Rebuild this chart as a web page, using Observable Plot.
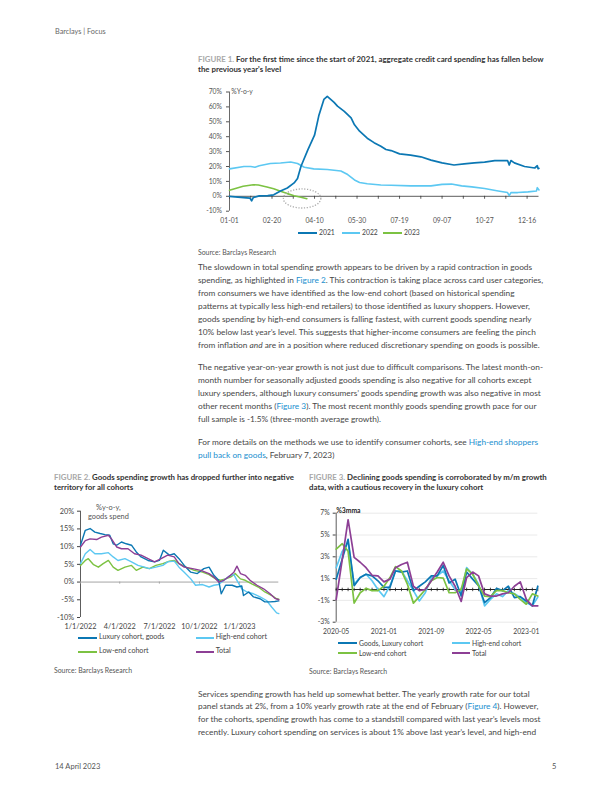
<!DOCTYPE html>
<html><head><meta charset="utf-8">
<script src="https://cdn.jsdelivr.net/npm/d3@7"></script>
<script src="https://cdn.jsdelivr.net/npm/@observablehq/plot@0.6"></script>
<style>
body{margin:0;background:#fff;}
#page{position:relative;width:612px;height:792px;overflow:hidden;font-family:Lato,"Open Sans",sans-serif;color:#444;}
.abs{position:absolute;white-space:nowrap;}
.title{font-size:7.85px;font-weight:700;line-height:10px;color:#333;}
.title .fig{color:#a8a8a8;}
.src{font-size:6.9px;color:#555;line-height:8px;}
.body{font-size:8.3px;line-height:13px;color:#474747;}
.link{color:#1a8fcf;}
.leg{font-size:7px;color:#444;line-height:8px;}
.sw{position:absolute;height:2px;}
.chart{position:absolute;}
</style></head>
<body><div id="page">
<div class="abs" style="left:55px;top:27px;font-size:7.3px;color:#666;">Barclays | Focus</div>

<div class="abs title" style="left:198px;top:54px;"><span class="fig">FIGURE 1.</span> For the first time since the start of 2021, aggregate credit card spending has fallen below<br>the previous year's level</div>
<div id="fig1" class="chart" style="left:190px;top:80px;"></div>
<div id="leg1"></div>
<div class="abs src" style="left:198px;top:247.5px;">Source: Barclays Research</div>

<div class="abs body" style="left:198px;top:261.2px;">The slowdown in total spending growth appears to be driven by a rapid contraction in goods<br>spending, as highlighted in <span class="link">Figure 2</span>. This contraction is taking place across card user categories,<br>from consumers we have identified as the low-end cohort (based on historical spending<br>patterns at typically less high-end retailers) to those identified as luxury shoppers. However,<br>goods spending by high-end consumers is falling fastest, with current goods spending nearly<br>10% below last year’s level. This suggests that higher-income consumers are feeling the pinch<br>from inflation <i>and</i> are in a position where reduced discretionary spending on goods is possible.</div>
<div class="abs body" style="left:198px;top:361.2px;">The negative year-on-year growth is not just due to difficult comparisons. The latest month-on-<br>month number for seasonally adjusted goods spending is also negative for all cohorts except<br>luxury spenders, although luxury consumers’ goods spending growth was also negative in most<br>other recent months (<span class="link">Figure 3</span>). The most recent monthly goods spending growth pace for our<br>full sample is -1.5% (three-month average growth).</div>
<div class="abs body" style="left:198px;top:435.8px;">For more details on the methods we use to identify consumer cohorts, see <span class="link">High-end shoppers</span><br><span class="link">pull back on goods</span>, February 7, 2023)</div>

<div class="abs title" style="left:54px;top:472.3px;"><span class="fig">FIGURE 2.</span> Goods spending growth has dropped further into negative<br>territory for all cohorts</div>
<div id="fig2" class="chart" style="left:40px;top:500px;"></div>
<div id="leg2"></div>
<div class="abs src" style="left:54px;top:666px;">Source: Barclays Research</div>

<div class="abs title" style="left:309px;top:472.3px;"><span class="fig">FIGURE 3.</span> Declining goods spending is corroborated by m/m growth<br>data, with a cautious recovery in the luxury cohort</div>
<div id="fig3" class="chart" style="left:300px;top:505px;"></div>
<div id="leg3"></div>
<div class="abs src" style="left:309px;top:666.7px;">Source: Barclays Research</div>

<div class="abs body" style="left:198px;top:687.5px;line-height:12.7px;">Services spending growth has held up somewhat better. The yearly growth rate for our total<br>panel stands at 2%, from a 10% yearly growth rate at the end of February (<span class="link">Figure 4</span>). However,<br>for the cohorts, spending growth has come to a standstill compared with last year’s levels most<br>recently. Luxury cohort spending on services is about 1% above last year’s level, and high-end</div>

<div class="abs" style="left:55px;top:762px;font-size:7.5px;color:#555;">14 April 2023</div>
<div class="abs" style="left:552px;top:762px;font-size:7.5px;color:#555;">5</div>
</div>
<script>
// ---------- Colours ----------
const cDark = "#0b77b3", cLight = "#5cc8f2", cGreen = "#7cc242", cPurple = "#8d3f95";

// ---------- Figure 1: aggregate credit card spending, %y/y, by day of year ----------
const fig1TickDays = [0, 50, 100, 150, 200, 250, 300, 350];
const fig1TickLabels = ["01-01", "02-20", "04-10", "05-30", "07-19", "09-07", "10-27", "12-16"];
const fig1MinorTicks = [0, 25, 50, 75, 100, 125, 150, 175, 200, 225, 250, 275, 300, 325, 350];
const fig1YTicks = [-10, 0, 10, 20, 30, 40, 50, 60, 70];
const days2021 = [0, 10, 20, 24, 26, 28, 35, 45, 52, 60, 68, 76, 80, 84, 92, 100, 105, 111, 115, 119, 123, 127, 135, 143, 147, 153, 162, 170, 178, 184, 190, 200, 213, 225, 237, 250, 264, 276, 288, 300, 312, 327, 329, 331, 335, 347, 359, 362, 363, 364];
const vals2021 = [0, -0.5, -1, -1.2, -3, -0.8, 0.3, 0.5, 1, 3.5, 5.6, 9, 12, 20, 31, 41, 54, 65, 67, 65, 63, 60.5, 57, 52.7, 48, 43.7, 39, 36, 33.6, 31.4, 30.7, 28.5, 27.6, 26.5, 24.3, 22.4, 21, 21.8, 22.4, 22.9, 24, 24, 21, 24, 22.4, 20, 19, 20.5, 18.5, 18.8];
const days2022 = [0, 17, 25, 30, 35, 48, 60, 72, 80, 88, 99, 115, 131, 139, 147, 153, 162, 178, 190, 213, 237, 250, 261, 273, 285, 300, 316, 327, 329, 331, 339, 351, 361, 362, 364];
const vals2022 = [18.4, 20, 20, 19.5, 20.5, 22, 22.4, 23, 22, 19.5, 18.4, 18, 17, 14.6, 11, 9.3, 8.4, 7.6, 7.4, 7, 7, 8, 8.2, 7, 6.3, 5.2, 3.6, 2.5, 0.5, 2.5, 2.5, 3, 3.6, 5.8, 4.3];
const days2023 = [0, 9, 16, 28, 34, 44, 52, 60, 68, 76, 84, 91];
const vals2023 = [4, 5.6, 6.7, 7.8, 7.6, 6.3, 5, 3.4, 1.8, 0.4, -0.7, -1.6];
const fig1Highlight = {day: 86, val: -1.8, rxDays: 22, ryVal: 6.4};

// ---------- Figure 2: goods spending %y/y by cohort, days since 1/1/2022 ----------
const fig2Ticks = ["2022-01-01", "2022-04-01", "2022-07-01", "2022-10-01", "2023-01-01"];
const fig2Domain = ["2022-01-01", "2023-04-01"];
const fig2YTicks = [-10, -5, 0, 5, 10, 15, 20];
const luxDays = [0, 11, 22, 33, 45, 56, 67, 75, 83, 94, 105, 117, 128, 139, 155, 170, 181, 190, 204, 215, 226, 238, 253, 268, 283, 295, 306, 317, 323, 333, 348, 359, 370, 374, 386, 397, 412, 423, 435, 446, 455];
const luxVals = [10.4, 14.6, 15.1, 14.1, 13.7, 13.4, 13.2, 10.8, 10.4, 11.3, 10.8, 10.4, 8.5, 7.1, 6.1, 5.7, 6.1, 9.0, 7.6, 8.0, 6.6, 4.7, 2.8, 2.4, 3.8, 4.2, 1.9, 0.5, -3.3, -0.9, -0.9, -1.4, -1.1, -3.8, -2.8, -4.2, -4.7, -5.6, -5.6, -5.5, -5.3];
const highDays = [0, 11, 22, 33, 48, 64, 75, 86, 102, 117, 132, 147, 158, 173, 189, 200, 215, 226, 238, 253, 264, 280, 295, 306, 317, 333, 344, 352, 359, 370, 382, 397, 412, 427, 439, 450, 455];
const highVals = [5.2, 8.0, 9.2, 8.0, 8.0, 8.3, 7.1, 6.1, 6.6, 5.7, 4.7, 4.2, 3.8, 4.2, 4.7, 5.7, 5.9, 4.2, 2.8, 0.9, -0.9, -0.7, -1.4, -0.9, -0.7, 0.9, 1.9, 2.1, 0.5, -1.9, -2.8, -3.3, -4.2, -5.2, -7.1, -8.7, -8.9];
const lowDays = [0, 11, 18, 30, 41, 52, 64, 75, 86, 102, 117, 128, 143, 158, 173, 189, 204, 215, 226, 242, 261, 280, 295, 310, 321, 333, 344, 355, 367, 378, 393, 408, 423, 439, 450, 455];
const lowVals = [4.7, 6.1, 6.6, 4.9, 4.2, 5.2, 6.1, 4.2, 3.3, 4.2, 4.7, 3.3, 4.2, 3.8, 4.7, 5.2, 5.9, 6.1, 5.2, 4.2, 3.3, 2.8, 2.1, 0.9, 0.5, 0.9, 1.4, 2.4, 0.9, 0.5, -0.5, -1.4, -2.8, -3.8, -4.7, -4.8];
const totDays = [0, 11, 22, 37, 48, 64, 71, 83, 94, 109, 124, 139, 155, 170, 185, 200, 215, 226, 238, 257, 276, 295, 306, 317, 329, 344, 352, 359, 367, 378, 389, 405, 420, 435, 446, 455];
const totVals = [9.9, 11.7, 12.2, 12.0, 12.7, 13.2, 12.2, 9.9, 9.4, 9.4, 8.0, 7.6, 6.6, 5.7, 6.6, 7.6, 7.1, 5.2, 4.2, 3.8, 3.3, 2.4, 1.4, 0.0, 0.5, 1.9, 2.8, 4.5, 2.4, 1.9, 0.5, -0.9, -1.9, -3.3, -4.6, -5.0];

// ---------- Figure 3: goods spending m/m, %3mma, monthly ----------
const months3 = ["2020-05","2020-06","2020-07","2020-08","2020-09","2020-10","2020-11","2020-12","2021-01","2021-02","2021-03","2021-04","2021-05","2021-06","2021-07","2021-08","2021-09","2021-10","2021-11","2021-12","2022-01","2022-02","2022-03","2022-04","2022-05","2022-06","2022-07","2022-08","2022-09","2022-10","2022-11","2022-12","2023-01","2023-02","2023-03"];
const fig3Ticks = ["2020-05", "2021-01", "2021-09", "2022-05", "2023-01"];
const fig3YTicks = [-3, -1, 1, 3, 5, 7];
const lux3 = [0.95, 2.8, 4.6, 0.35, 1.1, 1.4, 1.25, 0.8, 0.2, 0.2, 1.7, 1.6, 1.7, -0.1, 0.3, 0.7, 1.25, 1.25, 2.2, 0.6, 0.95, -0.6, 1.6, 0.95, 0.35, -1.2, -0.75, 0.1, -0.1, 0.3, -0.75, -0.65, -1.05, -1.5, 0.3];
const high3 = [2.0, 3.5, 4.3, 0.5, 1.1, 1.4, 0.8, 0.0, -0.65, 0.35, 1.7, 1.7, 0.8, -0.1, -1.05, -0.3, 1.1, 1.25, 1.7, 0.8, 0.0, -0.3, 2.0, 1.4, 0.5, -1.5, -0.9, -0.4, -0.65, -0.1, -0.4, -0.7, -1.2, -1.5, -0.7];
const low3 = [3.7, 4.2, 3.5, -1.25, -0.3, 0.1, -0.1, -0.1, 0.3, 1.1, 2.1, 1.7, 0.5, -1.25, -0.65, 0.0, 0.8, 1.1, 1.05, -0.3, -0.3, 0.0, 1.9, 1.4, 0.35, -0.6, -0.65, -0.1, -0.1, -0.3, -0.4, -0.9, -1.35, -0.4, -0.6];
const tot3 = [-0.9, 2.75, 6.4, 2.95, 2.5, 2.0, 1.3, 1.25, 0.7, 0.95, 2.0, 2.3, 2.5, 0.3, -0.1, 0.0, 0.8, 1.6, 2.5, 1.25, 0.3, -1.1, 1.1, 1.6, 1.25, -0.4, -0.6, -0.6, -0.4, -0.3, 0.3, 0.7, -0.9, -1.5, -1.5];

// ---------- helpers ----------
const pairs = (xs, ys) => xs.map((x, i) => ({x, y: ys[i]}));
const parseDay = d3.utcParse("%Y-%m-%d");
const parseMonth = d3.utcParse("%Y-%m");
const day0 = parseDay("2022-01-01");
const datePairs = (ds, vs) => ds.map((d, i) => ({x: d3.utcDay.offset(day0, d), y: vs[i]}));

function legend(items, fontSize) {
  const host = document.getElementById("page");
  for (const it of items) {
    const sw = document.createElement("div");
    sw.className = "sw";
    sw.style.cssText = `left:${it.x}px;top:${it.y - 1}px;width:${it.w}px;background:${it.color};height:${it.h || 2}px;`;
    host.appendChild(sw);
    const t = document.createElement("div");
    t.className = "abs leg";
    t.style.cssText = `left:${it.x + it.w + 2}px;top:${it.y - 4.5}px;font-size:${fontSize}px;`;
    t.textContent = it.label;
    host.appendChild(t);
  }
}

// ---------- Figure 1 ----------
const f1Labels = new Map(fig1TickDays.map((d, i) => [d, fig1TickLabels[i]]));
const fig1 = Plot.plot({
  width: 360, height: 150,
  marginLeft: 39, marginRight: 11.5, marginTop: 11.5, marginBottom: 19.3,
  style: {fontFamily: "Lato, sans-serif", fontSize: "6.8px", color: "#555", background: "transparent", overflow: "visible"},
  x: {domain: [0, 364], ticks: fig1TickDays, tickFormat: d => f1Labels.get(d), tickSize: 0, tickPadding: 6.5, label: null},
  y: {domain: [-10, 70], ticks: fig1YTicks, tickFormat: d => d + "%", tickSize: 3, tickPadding: 4.5, label: null},
  marks: [
    Plot.ruleX([0], {stroke: "#444", strokeWidth: 0.8}),
    Plot.ruleY([0], {stroke: "#333", strokeWidth: 0.8}),
    Plot.ruleX(fig1MinorTicks, {y1: 0, y2: -2, stroke: "#333", strokeWidth: 0.8}),
    Plot.text(["%Y-o-y"], {x: 2, y: 70, text: d => d, textAnchor: "start", fill: "#555"}),
    Plot.line(pairs(days2022, vals2022), {x: "x", y: "y", stroke: cLight, strokeWidth: 1.6}),
    Plot.line(pairs(days2023, vals2023), {x: "x", y: "y", stroke: cGreen, strokeWidth: 1.6}),
    Plot.line(pairs(days2021, vals2021), {x: "x", y: "y", stroke: cDark, strokeWidth: 1.7})
  ]
});
document.getElementById("fig1").appendChild(fig1);
{
  const xs = fig1.scale("x"), ys = fig1.scale("y");
  const h = fig1Highlight;
  const cx = xs.apply(h.day), cy = ys.apply(h.val);
  const rx = Math.abs(xs.apply(h.day + h.rxDays) - cx), ry = Math.abs(ys.apply(h.val + h.ryVal) - cy);
  d3.select(fig1).append("ellipse")
    .attr("cx", cx).attr("cy", cy).attr("rx", rx).attr("ry", ry)
    .attr("fill", "none").attr("stroke", "#aaa").attr("stroke-width", 1.3)
    .attr("stroke-dasharray", "1.2 1.6");
}
legend([
  {x: 298, y: 232.7, w: 19, color: cDark, label: "2021"},
  {x: 342, y: 232.7, w: 18, color: cLight, label: "2022"},
  {x: 383, y: 232.7, w: 19, color: cGreen, label: "2023"}
], 6.8);

// ---------- Figure 2 ----------
const fmt2 = d3.utcFormat("%-m/%-d/%Y");
const fig2 = Plot.plot({
  width: 250, height: 135,
  marginLeft: 40, marginRight: 11.7, marginTop: 10.7, marginBottom: 18,
  style: {fontFamily: "Lato, sans-serif", fontSize: "7.3px", color: "#444", background: "transparent", overflow: "visible"},
  x: {type: "utc", domain: fig2Domain.map(parseDay), ticks: fig2Ticks.map(parseDay), tickFormat: fmt2, tickSize: 0, tickPadding: 6.5, label: null},
  y: {domain: [-10, 20], ticks: fig2YTicks, tickFormat: d => d + "%", tickSize: 3, tickPadding: 3.5, label: null},
  marks: [
    Plot.ruleX([parseDay(fig2Domain[0])], {stroke: "#333", strokeWidth: 0.8}),
    Plot.ruleY([0], {stroke: "#9a9a9a", strokeWidth: 0.9}),
    Plot.ruleX(fig2Ticks.map(parseDay), {y1: 0, y2: -0.6, stroke: "#999", strokeWidth: 0.8}),
    Plot.text(["%y-o-y,\ngoods spend"], {x: d3.utcDay.offset(day0, 64), y: 20, text: d => d, lineAnchor: "middle", lineHeight: 1.25, fill: "#555", fontSize: 7.4}),
    Plot.line(datePairs(lowDays, lowVals), {x: "x", y: "y", stroke: cGreen, strokeWidth: 1.4}),
    Plot.line(datePairs(highDays, highVals), {x: "x", y: "y", stroke: cLight, strokeWidth: 1.4}),
    Plot.line(datePairs(luxDays, luxVals), {x: "x", y: "y", stroke: cDark, strokeWidth: 1.4}),
    Plot.line(datePairs(totDays, totVals), {x: "x", y: "y", stroke: cPurple, strokeWidth: 1.4})
  ]
});
document.getElementById("fig2").appendChild(fig2);
legend([
  {x: 78, y: 637.7, w: 19, color: cDark, label: "Luxury cohort, goods", h: 2.2},
  {x: 195.7, y: 637.7, w: 18, color: cLight, label: "High-end cohort", h: 2.2},
  {x: 78, y: 651.7, w: 19, color: cGreen, label: "Low-end cohort", h: 2.2},
  {x: 195.7, y: 651.7, w: 18, color: cPurple, label: "Total", h: 2.2}
], 7.1);

// ---------- Figure 3 ----------
const fmt3 = d3.utcFormat("%Y-%m");
const m3 = months3.map(parseMonth);
const fig3 = Plot.plot({
  width: 250, height: 135,
  marginLeft: 35.7, marginRight: 12.7, marginTop: 7.7, marginBottom: 18.3,
  style: {fontFamily: "Lato, sans-serif", fontSize: "6.8px", color: "#444", background: "transparent", overflow: "visible"},
  x: {type: "utc", domain: [m3[0], m3[m3.length - 1]], ticks: fig3Ticks.map(parseMonth), tickFormat: fmt3, tickSize: 0, tickPadding: 7, label: null},
  y: {domain: [-3, 7], ticks: fig3YTicks, tickFormat: d => d + "%", tickSize: 3, tickPadding: 3.5, label: null},
  marks: [
    Plot.ruleY(fig3YTicks, {stroke: "#e4e4e4", strokeWidth: 0.8}),
    Plot.ruleX([m3[0]], {stroke: "#333", strokeWidth: 0.8}),
    Plot.ruleY([0], {stroke: "#222", strokeWidth: 1}),
    Plot.ruleX(m3, {y1: 0.12, y2: -0.2, stroke: "#222", strokeWidth: 0.8}),
    Plot.text(["%3mma"], {x: m3[0], y: 7, text: d => d, textAnchor: "start", dy: -2.5, fontWeight: "bold", fill: "#222"}),
    Plot.line(m3.map((x, i) => ({x, y: high3[i]})), {x: "x", y: "y", stroke: cLight, strokeWidth: 1.7}),
    Plot.line(m3.map((x, i) => ({x, y: lux3[i]})), {x: "x", y: "y", stroke: cDark, strokeWidth: 1.7}),
    Plot.line(m3.map((x, i) => ({x, y: low3[i]})), {x: "x", y: "y", stroke: cGreen, strokeWidth: 1.7}),
    Plot.line(m3.map((x, i) => ({x, y: tot3[i]})), {x: "x", y: "y", stroke: cPurple, strokeWidth: 1.7})
  ]
});
document.getElementById("fig3").appendChild(fig3);
legend([
  {x: 338, y: 643.3, w: 19, color: cDark, label: "Goods, Luxury cohort"},
  {x: 452, y: 643.3, w: 18, color: cLight, label: "High-end cohort"},
  {x: 338, y: 653.3, w: 19, color: cGreen, label: "Low-end cohort"},
  {x: 452, y: 653.3, w: 18, color: cPurple, label: "Total"}
], 6.8);
</script>
</body></html>
